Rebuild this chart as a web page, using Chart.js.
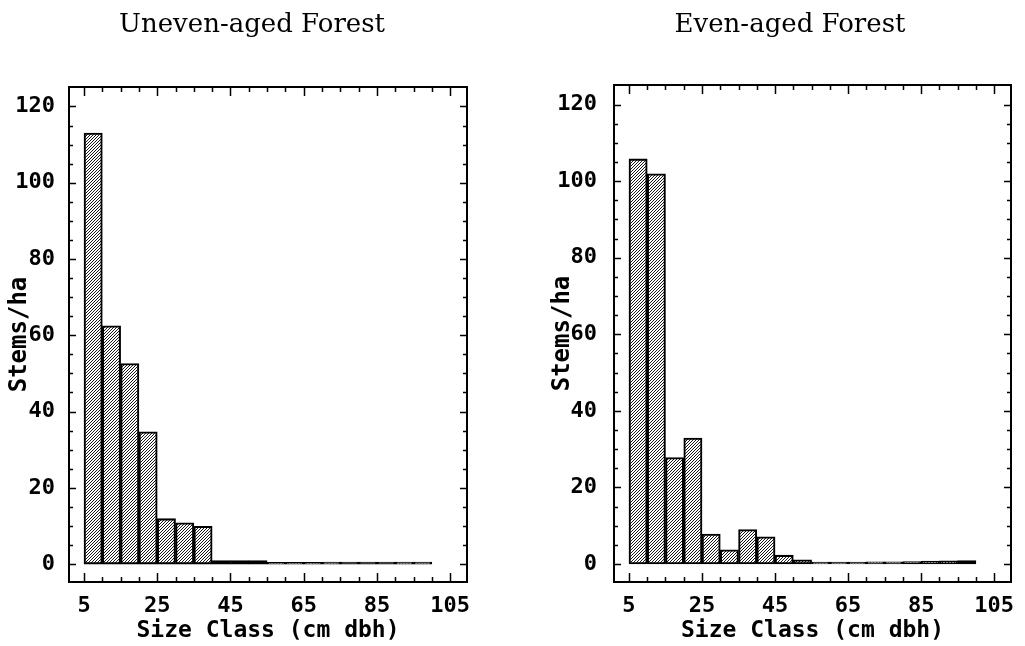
<!DOCTYPE html>
<html>
<head>
<meta charset="utf-8">
<script src="https://cdn.jsdelivr.net/npm/chart.js@4.4.0/dist/chart.umd.min.js"></script>
<style>
  html, body { margin: 0; padding: 0; background: #fff; overflow: hidden; }
  #wrap { position: relative; width: 1025px; height: 646px; }
  canvas { position: absolute; top: 0; }
</style>
</head>
<body>
<div id="wrap">
  <canvas id="uneven" width="512" height="646" style="left:0"></canvas>
  <canvas id="even" width="513" height="646" style="left:512px"></canvas>
</div>
<script>
// size classes (lower bound, cm dbh), 5 cm wide
var classStarts = [5, 10, 15, 20, 25, 30, 35, 40, 45, 50, 55, 60, 65, 70, 75, 80, 85, 90, 95];
var classWidth = 5;

// stems/ha per class
var unevenStems = [113, 62.5, 52.6, 34.7, 11.9, 10.8, 9.9, 0.9, 0.9, 0.9, 0.45, 0.45, 0.45, 0.5, 0.55, 0.55, 0.55, 0.5, 0.5];
var evenStems = [105.8, 101.9, 27.8, 32.9, 7.8, 3.7, 9.0, 7.1, 2.3, 1.1, 0.5, 0.5, 0.5, 0.55, 0.6, 0.65, 0.75, 0.8, 0.9];

var xTickLabels = [5, 25, 45, 65, 85, 105];
var yTickLabels = [0, 20, 40, 60, 80, 100, 120];
var minorStep = 5;

Chart.defaults.color = '#000';
Chart.defaults.font.family = '"DejaVu Sans Mono", monospace';
Chart.defaults.font.weight = 'bold';

function hatch() {
  var c = document.createElement('canvas');
  c.width = 3; c.height = 3;
  var g = c.getContext('2d');
  g.strokeStyle = '#000';
  g.lineWidth = 0.9;
  g.beginPath();
  g.moveTo(0, 3); g.lineTo(3, 0);
  g.moveTo(-1, 1); g.lineTo(1, -1);
  g.moveTo(2, 4); g.lineTo(4, 2);
  g.stroke();
  return g.createPattern(c, 'repeat');
}

// box round the plot area with inward tick marks on all four sides
var frame = {
  id: 'frame',
  afterDatasetsDraw: function (chart) {
    var ctx = chart.ctx, a = chart.chartArea;
    var xs = chart.scales.x, ys = chart.scales.y;
    ctx.save();
    ctx.strokeStyle = '#000';
    ctx.lineWidth = 1.5;
    ctx.beginPath();
    var x0 = xTickLabels[0], x1 = xTickLabels[xTickLabels.length - 1];
    for (var v = x0; v <= x1; v += minorStep) {
      var px = Math.round(xs.getPixelForValue(v)) + 0.5;
      var len = xTickLabels.indexOf(v) >= 0 ? 9 : 5;
      ctx.moveTo(px, a.bottom); ctx.lineTo(px, a.bottom - len);
      ctx.moveTo(px, a.top); ctx.lineTo(px, a.top + len);
    }
    var y0 = yTickLabels[0], y1 = yTickLabels[yTickLabels.length - 1];
    for (var w = y0; w <= y1; w += minorStep) {
      var py = Math.round(ys.getPixelForValue(w)) + 0.5;
      var ylen = yTickLabels.indexOf(w) >= 0 ? 7 : 4;
      ctx.moveTo(a.left, py); ctx.lineTo(a.left + ylen, py);
      ctx.moveTo(a.right, py); ctx.lineTo(a.right - ylen, py);
    }
    ctx.stroke();
    ctx.lineWidth = 2;
    ctx.strokeRect(a.left, a.top, a.right - a.left, a.bottom - a.top);
    ctx.restore();
  }
};

function panelTitle(text, cx) {
  return {
    id: 'panelTitle',
    afterDraw: function (chart) {
      var ctx = chart.ctx;
      ctx.save();
      ctx.font = '26px "DejaVu Serif"';
      ctx.fillStyle = '#000';
      ctx.textAlign = 'center';
      ctx.textBaseline = 'alphabetic';
      ctx.fillText(text, cx, 32);
      ctx.restore();
    }
  };
}

function makeChart(id, title, values, lay) {
  var pts = classStarts.map(function (s, i) {
    return { x: s + classWidth / 2, y: values[i] };
  });
  return new Chart(document.getElementById(id), {
    type: 'bar',
    data: {
      datasets: [{
        data: pts,
        backgroundColor: hatch(),
        borderColor: '#000',
        borderWidth: 1.4,
        borderSkipped: false,
        barPercentage: 1,
        categoryPercentage: 1
      }]
    },
    options: {
      responsive: false,
      animation: false,
      devicePixelRatio: 1,
      layout: { padding: { left: lay.left, right: lay.right, top: lay.top, bottom: 0 } },
      plugins: { legend: { display: false }, tooltip: { enabled: false } },
      scales: {
        x: {
          type: 'linear',
          offset: false,
          min: 0.9,
          max: 109.6,
          grid: { display: false },
          border: { display: false },
          afterBuildTicks: function (s) {
            s.ticks = xTickLabels.map(function (v) { return { value: v }; });
          },
          afterFit: function (s) { s.height = 64; },
          ticks: { autoSkip: false, maxRotation: 0, padding: 3, font: { size: 22 } },
          title: { display: true, text: 'Size Class (cm dbh)', font: { size: 23 }, padding: { top: 0, bottom: 1 } }
        },
        y: {
          min: -4.7,
          max: 125.1,
          grid: { display: false },
          border: { display: false },
          afterBuildTicks: function (s) {
            s.ticks = yTickLabels.map(function (v) { return { value: v }; });
          },
          afterFit: function (s) { s.width = lay.yw; },
          ticks: { padding: lay.tp, font: { size: 22 } },
          title: { display: true, text: 'Stems/ha', font: { size: 24 }, padding: { top: lay.tt, bottom: 0 } }
        }
      }
    },
    plugins: [frame, panelTitle(title, lay.cx)]
  });
}

makeChart('uneven', 'Uneven-aged Forest', unevenStems, { left: 4, right: 45, top: 87, yw: 65, tp: 6, tt: 1, cx: 252 });
makeChart('even', 'Even-aged Forest', evenStems, { left: 34, right: 14, top: 85, yw: 68, tp: 9, tt: 2, cx: 278 });
</script>
</body>
</html>
